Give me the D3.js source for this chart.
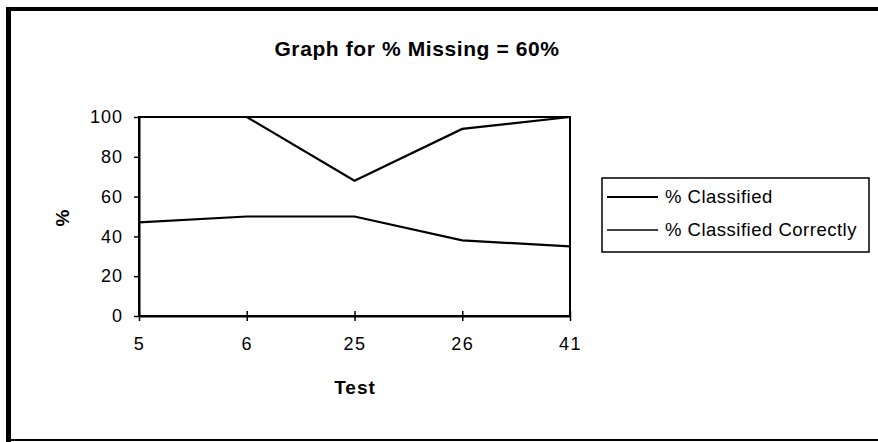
<!DOCTYPE html>
<html lang="en">
<head>
    <meta charset="UTF-8">
    <title>Graph for % Missing = 60%</title>
    <script src="https://d3js.org/d3.v7.min.js"></script>
    <style>
        body { margin: 0; background: #fff; }
        text { font-family: "Liberation Sans", Arial, sans-serif; fill: #000; }
    </style>
</head>
<body>
    <div id="chart"></div>

    <script type="text/javascript">
        // data
        var tests = ["5", "6", "25", "26", "41"];
        var classified = [47, 50, 50, 38, 35];
        var classifiedCorrectly = [100, 100, 68, 94, 100];
        var yTicks = [0, 20, 40, 60, 80, 100];
        var seriesNames = ["% Classified", "% Classified Correctly"];

        var width = 878, height = 442;
        var plotLeft = 139, plotRight = 570, plotTop = 117, plotBottom = 316;

        var svg = d3.select("#chart").append("svg")
            .attr("width", width)
            .attr("height", height);

        // outer frame (scanned page border)
        svg.append("line").attr("x1", 8.5).attr("x2", 8.5).attr("y1", 7).attr("y2", 442)
            .attr("stroke", "#000").attr("stroke-width", 5);
        svg.append("line").attr("x1", 6).attr("x2", 878).attr("y1", 9).attr("y2", 9)
            .attr("stroke", "#000").attr("stroke-width", 4);
        svg.append("line").attr("x1", 6).attr("x2", 878).attr("y1", 440).attr("y2", 440)
            .attr("stroke", "#000").attr("stroke-width", 2);

        var x = d3.scalePoint().domain(tests).range([plotLeft, plotRight]);
        var y = d3.scaleLinear().domain([0, 100]).range([plotBottom, plotTop]);

        // plot area box
        svg.append("rect")
            .attr("x", plotLeft).attr("y", plotTop)
            .attr("width", plotRight - plotLeft).attr("height", plotBottom - plotTop)
            .attr("fill", "none").attr("stroke", "#000").attr("stroke-width", 2);

        // y axis
        var yAxis = svg.append("g")
            .attr("transform", "translate(" + plotLeft + ",0)")
            .call(d3.axisLeft(y).tickValues(yTicks).tickSizeInner(5).tickSizeOuter(0).tickPadding(11));
        yAxis.select(".domain").attr("stroke-width", 2);
        yAxis.selectAll(".tick line").attr("stroke-width", 1.5);
        yAxis.selectAll("text").style("font-size", "18px").style("letter-spacing", "1px");

        // x axis, ticks cross the line
        var xAxis = svg.append("g")
            .attr("transform", "translate(0," + plotBottom + ")")
            .call(d3.axisBottom(x).tickSizeInner(5).tickSizeOuter(0).tickPadding(16));
        xAxis.select(".domain").attr("stroke-width", 2);
        xAxis.selectAll(".tick line").attr("y1", -5).attr("stroke-width", 1.5);
        xAxis.selectAll("text").style("font-size", "18px").style("letter-spacing", "1.5px");

        // lines
        var line = d3.line()
            .x(function(d, i) { return x(tests[i]); })
            .y(function(d) { return y(d); });

        [classified, classifiedCorrectly].forEach(function(s) {
            svg.append("path")
                .datum(s)
                .attr("d", line)
                .attr("fill", "none")
                .attr("stroke", "#000")
                .attr("stroke-width", 2.2);
        });

        // title
        svg.append("text")
            .attr("x", 417).attr("y", 56)
            .attr("text-anchor", "middle")
            .style("font-size", "21px").style("font-weight", "bold")
            .style("letter-spacing", "0.6px")
            .text("Graph for % Missing = 60%");

        // axis titles
        svg.append("text")
            .attr("transform", "translate(69,218) rotate(-90)")
            .attr("text-anchor", "middle")
            .style("font-size", "19px").style("font-weight", "bold")
            .text("%");
        svg.append("text")
            .attr("x", 355).attr("y", 394)
            .attr("text-anchor", "middle")
            .style("font-size", "19px").style("font-weight", "bold")
            .style("letter-spacing", "1px")
            .text("Test");

        // legend
        var legend = svg.append("g");
        legend.append("rect")
            .attr("x", 602).attr("y", 178)
            .attr("width", 267).attr("height", 74)
            .attr("fill", "none").attr("stroke", "#000").attr("stroke-width", 1.5);
        seriesNames.forEach(function(name, i) {
            var ly = 197 + i * 33;
            legend.append("line")
                .attr("x1", 607).attr("x2", 658).attr("y1", ly).attr("y2", ly)
                .attr("stroke", "#000").attr("stroke-width", i === 0 ? 2 : 1.5);
            legend.append("text")
                .attr("x", 665).attr("y", ly + 6)
                .style("font-size", "18.5px")
                .style("letter-spacing", "0.5px")
                .text(name);
        });
    </script>
</body>
</html>
